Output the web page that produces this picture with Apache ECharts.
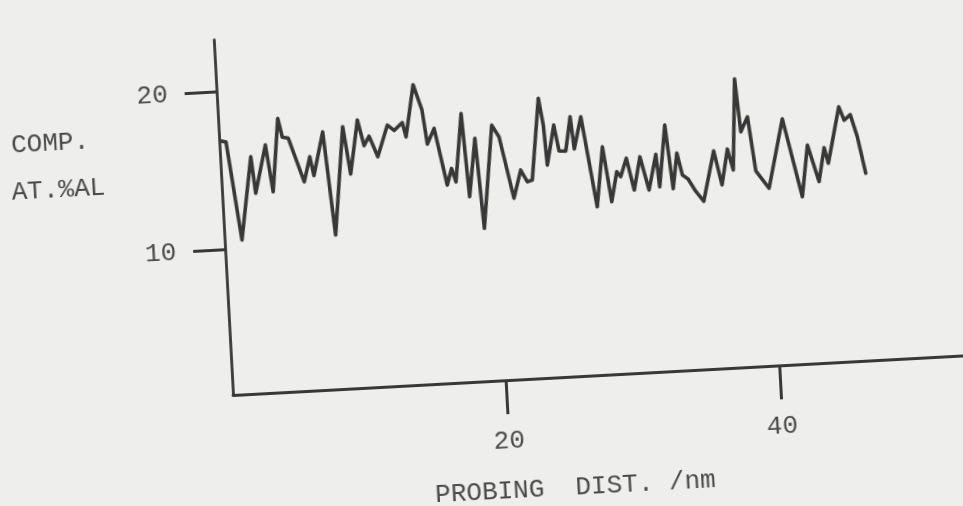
<!DOCTYPE html>
<html>
<head>
<meta charset="utf-8">
<title>COMP. AT.%AL vs PROBING DIST.</title>
<script src="https://cdn.jsdelivr.net/npm/echarts@6.0.0/dist/echarts.min.js"></script>
<style>
  html, body {
    margin: 0;
    width: 963px;
    height: 506px;
    overflow: hidden;
    background: #eeeeec;
  }
  /* the scanned figure sits a little crooked on the page */
  #main {
    position: absolute;
    left: 0;
    top: 0;
    width: 1000px;
    height: 560px;
    transform-origin: 233px 395px;
    transform: rotate(-3.1deg);
  }
</style>
</head>
<body>
<div id="main"></div>
<script>
// probing distance / nm
var probingDist = [0.20, 0.49, 1.27, 2.24, 2.46, 3.35, 3.74, 4.36, 4.62, 5.05,
  6.05, 6.55, 6.78, 7.59, 8.13, 9.07, 9.47, 10.17, 10.56, 10.96,
  11.52, 12.34, 12.81, 13.44, 13.66, 14.38, 14.93, 15.19, 15.74, 16.48,
  16.86, 17.13, 17.77, 18.07, 18.68, 19.02, 19.96, 20.45, 21.30, 21.90,
  22.34, 22.71, 23.47, 23.73, 23.87, 24.49, 24.78, 25.27, 25.72, 25.90,
  26.50, 27.35, 27.96, 28.43, 28.91, 29.18, 29.66, 30.12, 30.66, 31.20,
  31.83, 31.99, 32.60, 32.97, 33.37, 33.69, 34.09, 34.59, 35.15, 36.07,
  36.55, 37.08, 37.43, 37.88, 38.13, 38.67, 39.07, 39.97, 41.21, 42.37,
  42.94, 43.65, 44.15, 44.40, 45.38, 45.72, 46.19, 46.62, 47.09];

// composition, at.% Al
var compAl = [16.88, 16.81, 10.57, 15.80, 13.47, 16.49, 13.51, 18.13, 16.93, 16.85,
  14.03, 15.59, 14.39, 17.12, 10.56, 17.38, 14.36, 17.75, 16.11, 16.69,
  15.36, 17.33, 16.97, 17.43, 16.52, 19.79, 18.15, 15.99, 16.96, 13.34,
  14.37, 13.51, 17.81, 12.52, 16.19, 10.47, 16.97, 16.21, 12.27, 14.03,
  13.27, 13.36, 18.50, 16.80, 14.26, 16.76, 15.10, 15.08, 17.23, 15.18,
  17.19, 11.45, 15.22, 11.72, 13.60, 13.27, 14.41, 12.38, 14.46, 12.33,
  14.56, 12.50, 16.38, 12.33, 14.57, 13.17, 12.90, 12.11, 11.43, 14.58,
  12.40, 14.65, 13.31, 19.06, 15.70, 16.62, 13.18, 12.03, 16.37, 11.38,
  14.63, 12.28, 14.41, 13.41, 16.94, 16.08, 16.40, 14.98, 12.65];

var xTicks = [20, 40];
var yTicks = [10, 20];

var ink = '#383838';
var textInk = '#4a4a4a';
var mono = '"Liberation Mono", "DejaVu Sans Mono", monospace';

var points = probingDist.map(function (d, i) { return [d, compAl[i]]; });

var chart = echarts.init(document.getElementById('main'));
chart.setOption({
  animation: false,
  backgroundColor: 'transparent',
  grid: { left: 233, right: 0, top: 39.5, bottom: 165 },
  xAxis: {
    type: 'value',
    min: 0,
    max: 56.1,
    axisLine: { show: true, onZero: false, lineStyle: { color: ink, width: 2.8 } },
    axisTick: { show: true, customValues: xTicks, length: 34, lineStyle: { color: ink, width: 3 } },
    axisLabel: { customValues: xTicks, margin: 48, fontFamily: mono, fontSize: 26, color: textInk },
    splitLine: { show: false }
  },
  yAxis: {
    type: 'value',
    min: 0.8,
    max: 23.3,
    axisLine: { show: true, onZero: false, lineStyle: { color: ink, width: 2.8 } },
    axisTick: { show: true, customValues: yTicks, length: 32, lineStyle: { color: ink, width: 3 } },
    axisLabel: { customValues: yTicks, margin: 49, fontFamily: mono, fontSize: 26, color: textInk },
    splitLine: { show: false }
  },
  graphic: [
    { type: 'text', x: 25, y: 134, style: { text: 'COMP.', fill: textInk, font: '26px ' + mono, textAlign: 'left', textVerticalAlign: 'middle' } },
    { type: 'text', x: 23, y: 181.5, style: { text: 'AT.%AL', fill: textInk, font: '26px ' + mono, textAlign: 'left', textVerticalAlign: 'middle' } },
    { type: 'text', x: 570, y: 506, style: { text: 'PROBING  DIST. /nm', fill: textInk, font: '26px ' + mono, textAlign: 'center', textVerticalAlign: 'middle' } }
  ],
  series: [{
    type: 'line',
    data: points,
    showSymbol: false,
    smooth: false,
    lineStyle: { color: ink, width: 3.6, join: 'round', cap: 'round' }
  }]
});
</script>
</body>
</html>
